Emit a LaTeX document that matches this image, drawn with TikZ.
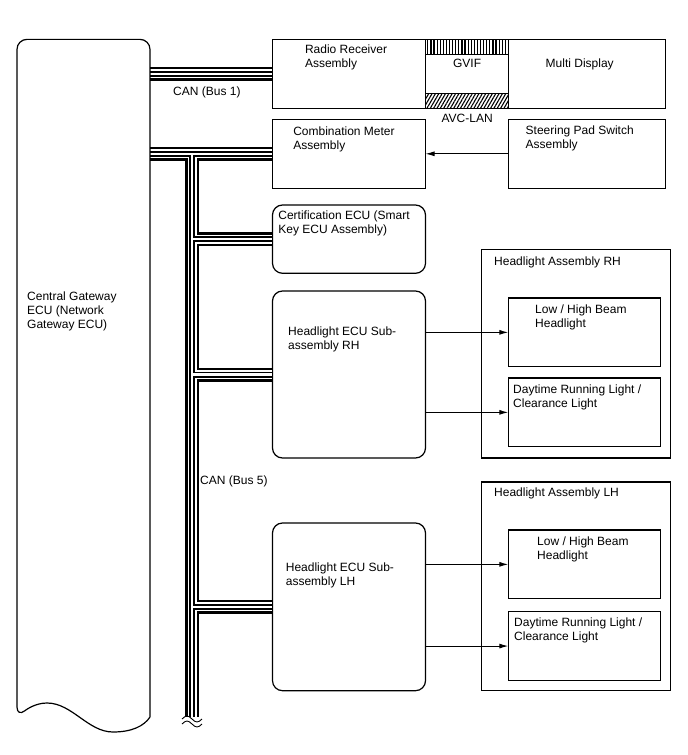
\documentclass[tikz,border=0pt]{standalone}
\usepackage{fontspec}
\setmainfont{Liberation Sans}
\usetikzlibrary{positioning, patterns.meta, arrows.meta}

\begin{document}
\begin{tikzpicture}[x=1pt, y=-1pt,
  box/.style = {draw, line width=1.2pt, outer sep=0pt, inner sep=0pt, minimum width=153pt, minimum height=69pt},
  rbox/.style = {box, rounded corners=10pt},
  txt/.style = {inner sep=0pt, align=left, font=\fontsize{12}{14}\selectfont},
  sig/.style = {line width=1pt, -{Latex[length=9pt, width=5pt]}},
  gvifbar/.style = {draw, line width=1.2pt, outer sep=0pt, inner sep=0pt, minimum width=83.3pt, minimum height=15pt,
                    pattern={Lines[angle=90, distance=3.1pt, line width=1.2pt]}},
  avcbar/.style = {gvifbar, pattern={Lines[angle=60, distance=2.9pt, line width=1.1pt]}}
]
\useasboundingbox (0,0) rectangle (688,755);

% Central Gateway ECU (outline drawn later)
\node[minimum width=133pt, minimum height=677.7pt, inner sep=0pt, outer sep=0pt] (ecu) at (83.5,378.2) {};
\node[txt, below right=252pt and 10pt of ecu.north west] (ecu-l) {Central Gateway\\ECU (Network\\Gateway ECU)};

% Radio / Multi Display
\node[box] (radio) at (349,73.8) {};
\node[txt, below right=5.7pt and 32.3pt of radio.north west] (radio-l) {Radio Receiver\\Assembly};
\node[box, minimum width=156.7pt, right=83.3pt of radio] (multi) {};
\node[txt, below right=19pt and 36.7pt of multi.north west] (multi-l) {Multi Display};

% GVIF / AVC-LAN
\node[gvifbar, anchor=north west] (gvif) at (radio.north east) {};
\node[txt, below=4.3pt of gvif] (gvif-l) {GVIF};
\node[avcbar, anchor=south west] (avc) at (radio.south east) {};
\node[txt, below=6pt of avc] (avc-l) {AVC-LAN};

% Combination Meter / Steering Pad
\node[box, below=11pt of radio] (comb) {};
\node[txt, below right=7pt and 20.6pt of comb.north west] (comb-l) {Combination Meter\\Assembly};
\node[box, minimum width=156.7pt, below=11pt of multi] (steer) {};
\node[txt, below right=6pt and 16.7pt of steer.north west] (steer-l) {Steering Pad Switch\\Assembly};

% Certification ECU
\node[rbox, minimum height=68.3pt, below=16.7pt of comb] (cert) {};
\node[txt, below right=5.7pt and 5.7pt of cert.north west] (cert-l) {Certification ECU (Smart\\Key ECU Assembly)};

% Headlight ECU RH
\node[rbox, minimum height=167pt, below=17.7pt of cert] (rhecu) {};
\node[txt, below right=35.7pt and 15.5pt of rhecu.north west] (rhecu-l) {Headlight ECU Sub-\\assembly RH};

% Headlight ECU LH
\node[rbox, minimum height=167.7pt, below=65pt of rhecu] (lhecu) {};
\node[txt, below right=39.7pt and 13.2pt of lhecu.north west] (lhecu-l) {Headlight ECU Sub-\\assembly LH};

% Headlight Assembly RH
\node[box, minimum width=189pt, minimum height=208.7pt, anchor=south west] (rhass) at ([xshift=56.2pt]rhecu.south east) {};
\node[txt, below right=7.4pt and 12.3pt of rhass.north west] (rhass-l) {Headlight Assembly RH};
\node[box, minimum width=152.4pt, minimum height=68.7pt, below right=48.7pt and 26.6pt of rhass.north west] (rhlow) {};
\node[txt, below right=7pt and 26.7pt of rhlow.north west] (rhlow-l) {Low / High Beam\\Headlight};
\node[box, minimum width=152.4pt, minimum height=68.7pt, below=11.3pt of rhlow] (rhday) {};
\node[txt, below right=7pt and 4.7pt of rhday.north west] (rhday-l) {Daytime Running Light /\\Clearance Light};

% Headlight Assembly LH
\node[box, minimum width=189pt, minimum height=208.7pt, anchor=south west] (lhass) at ([xshift=56.2pt]lhecu.south east) {};
\node[txt, below right=6pt and 12.3pt of lhass.north west] (lhass-l) {Headlight Assembly LH};
\node[box, minimum width=152.4pt, minimum height=68.7pt, below right=48pt and 26.6pt of lhass.north west] (lhlow) {};
\node[txt, below right=7pt and 28.7pt of lhlow.north west] (lhlow-l) {Low / High Beam\\Headlight};
\node[box, minimum width=152.4pt, minimum height=68.7pt, below=13pt of lhlow] (lhday) {};
\node[txt, below right=6pt and 5.7pt of lhday.north west] (lhday-l) {Daytime Running Light /\\Clearance Light};

%--- signal arrows
\draw[sig] (steer) -- (comb);
\draw[sig] (rhecu.east |- rhlow.west) -- (rhlow.west);
\draw[sig] (rhecu.east |- rhday.west) -- (rhday.west);
\draw[sig] (lhecu.east |- lhlow.west) -- (lhlow.west);
\draw[sig] (lhecu.east |- lhday.west) -- (lhday.west);

%--- CAN buses, drawn layer by layer so the junctions merge
\coordinate (busx) at (192,0);
\coordinate (tap) at (busx |- comb.west);
\coordinate (busend) at (192,717);
\foreach \w/\c in {14/black, 9/white, 6/black, 2.5/white}{
  \draw[line width=\w pt, \c, shorten >=0.6pt] (ecu.east |- radio.west) -- (radio.west);
  \draw[line width=\w pt, \c, shorten >=0.6pt] (ecu.east |- comb.west) -- (comb.west);
  \draw[line width=\w pt, \c] (tap) -- (busend);
  \draw[line width=\w pt, \c, shorten >=0.6pt] (tap |- cert.west) -- (cert.west);
  \draw[line width=\w pt, \c, shorten >=0.6pt] (tap |- rhecu.west) -- (rhecu.west);
  \draw[line width=\w pt, \c, shorten >=0.6pt] (tap |- lhecu.west) -- (lhecu.west);
}
\node[txt, anchor=north west] (bus1-l) at (173,86.7) {CAN (Bus 1)};
\node[txt, anchor=north west] (bus5-l) at (200,475.5) {CAN (Bus 5)};

%--- break mark at the open end of bus 5
\foreach \dy in {2,7}
  \draw[line width=0.9pt] ([shift={(-10,\dy)}]busend) .. controls ([shift={(-6,\dy-4)}]busend) and ([shift={(-4,\dy-4)}]busend) .. ([shift={(0,\dy)}]busend)
     .. controls ([shift={(4,\dy+4)}]busend) and ([shift={(6,\dy+4)}]busend) .. ([shift={(10,\dy)}]busend);

%--- ECU outline with torn bottom
\draw[line width=1.2pt] (ecu.south east) [rounded corners=10pt] -- (ecu.north east) -- (ecu.north west) -- (ecu.south west)
  [sharp corners] .. controls (27,709) and (36,703) .. (47,703) .. controls (72,703) and (88,732) .. (113,732)
  .. controls (132,732) and (144,726) .. (ecu.south east);

\end{tikzpicture}
\end{document}
